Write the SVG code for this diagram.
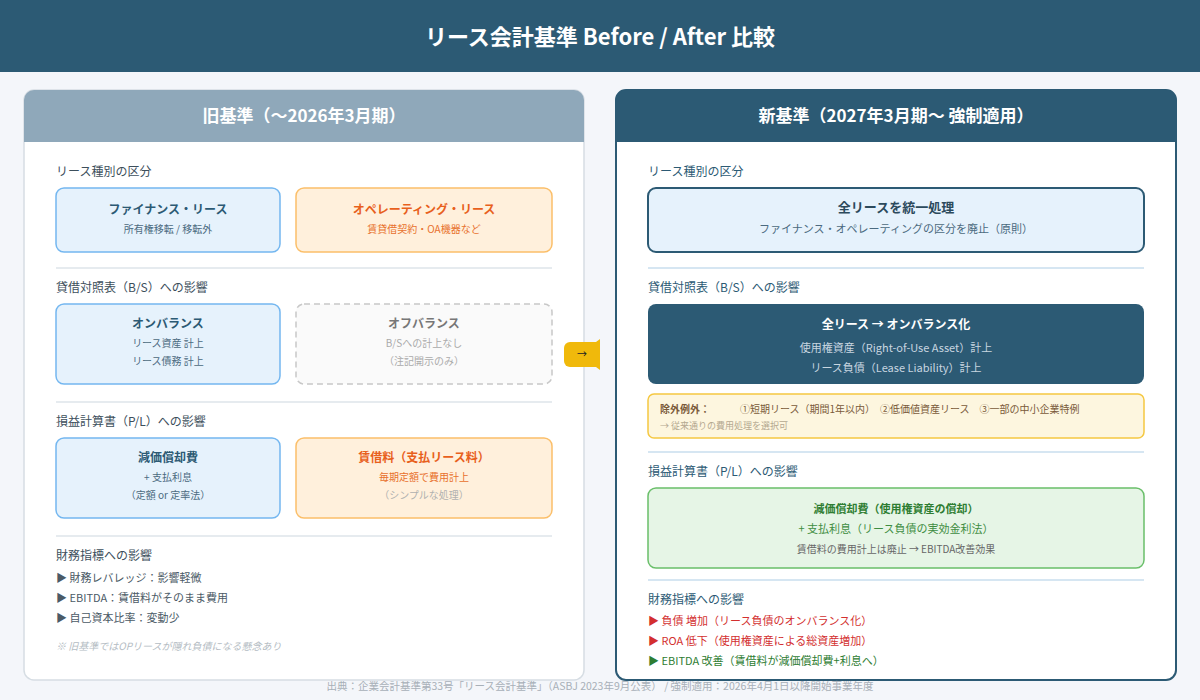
<svg xmlns="http://www.w3.org/2000/svg" width="1200" height="700" viewBox="0 0 1200 700">
<style>
text{font-family:"Noto Sans CJK JP","Noto Sans",sans-serif}
.sec{font-size:12px;fill:#3d4f5c}
.secR{font-size:12px;fill:#2c5a74}
.b{font-weight:bold}
.c{text-anchor:middle}
.sm{font-size:10px}
.div{stroke:#e6ebef;stroke-width:2}
.divR{stroke:#d6e6f2;stroke-width:2}
</style>
<rect width="1200" height="700" fill="#f4f6fa"/>
<rect width="1200" height="72" fill="#2c5a74"/>
<text x="600" y="45" class="c b" font-size="22" fill="#fff">リース会計基準 Before / After 比較</text>

<g id="left-panel">
<rect x="24" y="90" width="560" height="590" rx="10" fill="#fff" stroke="#d6dde3" stroke-width="1.5"/>
<path d="M24 142V100a10 10 0 0 1 10-10h540a10 10 0 0 1 10 10v42z" fill="#8fa8ba"/>
<text x="304" y="122" class="c b" font-size="17" fill="#fff">旧基準（〜2026年3月期）</text>
<text x="56" y="176" class="sec">リース種別の区分</text>
<text x="56" y="292" class="sec">貸借対照表（B/S）への影響</text>
<text x="56" y="426" class="sec">損益計算書（P/L）への影響</text>
<text x="56" y="560" class="sec">財務指標への影響</text>
<line x1="56" y1="268" x2="552" y2="268" class="div"/>
<line x1="56" y1="402" x2="552" y2="402" class="div"/>
<line x1="56" y1="536" x2="552" y2="536" class="div"/>
<text x="56" y="582" font-size="11" fill="#4b5a66">▶ 財務レバレッジ：影響軽微</text>
<text x="56" y="602" font-size="11" fill="#4b5a66">▶ EBITDA：賃借料がそのまま費用</text>
<text x="56" y="622" font-size="11" fill="#4b5a66">▶ 自己資本比率：変動少</text>
<text x="56" y="650" font-size="10" font-style="italic" fill="#b4bcc3">※ 旧基準ではOPリースが隠れ負債になる懸念あり</text>
</g>
<g id="finance-lease">
<rect x="56" y="188" width="224" height="64" rx="8" fill="#e6f2fc" stroke="#74b7f0" stroke-width="1.5"/>
<text x="168" y="214" class="c b" font-size="12" fill="#2c5a74">ファイナンス・リース</text>
<text x="168" y="233" class="c sm" fill="#4b6a80">所有権移転 / 移転外</text>
</g>
<g id="operating-lease">
<rect x="296" y="188" width="256" height="64" rx="8" fill="#fff0dc" stroke="#fbbf6a" stroke-width="1.5"/>
<text x="424" y="214" class="c b" font-size="12" fill="#e8601c">オペレーティング・リース</text>
<text x="424" y="233" class="c sm" fill="#e8702c">賃貸借契約・OA機器など</text>
</g>
<g id="on-balance">
<rect x="56" y="304" width="224" height="80" rx="8" fill="#e6f2fc" stroke="#74b7f0" stroke-width="1.5"/>
<text x="168" y="328" class="c b" font-size="12" fill="#2c5a74">オンバランス</text>
<text x="168" y="347" class="c sm" fill="#4b6a80">リース資産 計上</text>
<text x="168" y="365" class="c sm" fill="#4b6a80">リース債務 計上</text>
</g>
<g id="off-balance">
<rect x="296" y="304" width="256" height="80" rx="8" fill="#fafafa" stroke="#c8c8c8" stroke-width="1.5" stroke-dasharray="6 4"/>
<text x="424" y="328" class="c b" font-size="12" fill="#777">オフバランス</text>
<text x="424" y="347" class="c sm" fill="#aaa">B/Sへの計上なし</text>
<text x="424" y="365" class="c sm" fill="#aaa">（注記開示のみ）</text>
</g>
<g id="depreciation-old">
<rect x="56" y="438" width="224" height="80" rx="8" fill="#e6f2fc" stroke="#74b7f0" stroke-width="1.5"/>
<text x="168" y="462" class="c b" font-size="12" fill="#2c5a74">減価償却費</text>
<text x="168" y="481" class="c sm" fill="#4b6a80">+ 支払利息</text>
<text x="168" y="499" class="c sm" fill="#4b6a80">（定額 or 定率法）</text>
</g>
<g id="rent-expense">
<rect x="296" y="438" width="256" height="80" rx="8" fill="#fff0dc" stroke="#fbbf6a" stroke-width="1.5"/>
<text x="424" y="462" class="c b" font-size="12" fill="#e8601c">賃借料（支払リース料）</text>
<text x="424" y="481" class="c sm" fill="#e8702c">毎期定額で費用計上</text>
<text x="424" y="499" class="c sm" fill="#b0b0b0">（シンプルな処理）</text>
</g>

<g id="connectors">
<path d="M570 342h30v25h-30a6 6 0 0 1-6-6v-13a6 6 0 0 1 6-6z" fill="#f0b90b"/>
<path d="M596 342l4-3v31l-4-3z" fill="#f0b90b"/>
<text x="582" y="358" class="c" font-size="10" fill="#222">→</text>
</g>

<g id="right-panel">
<rect x="616" y="90" width="560" height="590" rx="10" fill="#fff" stroke="#2c5a74" stroke-width="2"/>
<path d="M616 142V100a10 10 0 0 1 10-10h540a10 10 0 0 1 10 10v42z" fill="#2c5a74"/>
<text x="896" y="122" class="c b" font-size="17" fill="#fff">新基準（2027年3月期〜 強制適用）</text>
<text x="648" y="176" class="secR">リース種別の区分</text>
<text x="648" y="292" class="secR">貸借対照表（B/S）への影響</text>
<text x="648" y="476" class="secR">損益計算書（P/L）への影響</text>
<text x="648" y="604" class="secR">財務指標への影響</text>
<line x1="648" y1="268" x2="1144" y2="268" class="divR"/>
<line x1="648" y1="452" x2="1144" y2="452" class="divR"/>
<line x1="648" y1="580" x2="1144" y2="580" class="divR"/>
<text x="648" y="625" font-size="11" fill="#d32f2f">▶ 負債 増加（リース負債のオンバランス化）</text>
<text x="648" y="645" font-size="11" fill="#d32f2f">▶ ROA 低下（使用権資産による総資産増加）</text>
<text x="648" y="665" font-size="11" fill="#2e7d32">▶ EBITDA 改善（賃借料が減価償却費+利息へ）</text>
</g>
<g id="unified">
<rect x="648" y="188" width="496" height="64" rx="8" fill="#e6f2fc" stroke="#2c5a74" stroke-width="2"/>
<text x="896" y="212" class="c b" font-size="13" fill="#2c4a5c">全リースを統一処理</text>
<text x="896" y="233" class="c" font-size="11" fill="#4b6a80">ファイナンス・オペレーティングの区分を廃止（原則）</text>
</g>
<g id="all-on-balance">
<rect x="648" y="304" width="496" height="80" rx="8" fill="#2c5a74"/>
<text x="896" y="329" class="c b" font-size="12" fill="#fff">全リース → オンバランス化</text>
<text x="896" y="352" class="c" font-size="11" fill="#c8d6e0">使用権資産（Right-of-Use Asset）計上</text>
<text x="896" y="372" class="c" font-size="11" fill="#c8d6e0">リース負債（Lease Liability）計上</text>
</g>
<g id="exceptions">
<rect x="648" y="394" width="496" height="44" rx="6" fill="#fdf6df" stroke="#f5c842" stroke-width="1.5"/>
<text x="660" y="413" class="sm b" fill="#7a5a3a">除外例外：</text>
<text x="740" y="413" class="sm" fill="#7a5a3a">①短期リース（期間1年以内）　②低価値資産リース　③一部の中小企業特例</text>
<text x="660" y="429" font-size="9" fill="#b4a890">→ 従来通りの費用処理を選択可</text>
</g>
<g id="depreciation-new">
<rect x="648" y="488" width="496" height="80" rx="8" fill="#e6f5e6" stroke="#6abf6a" stroke-width="1.5"/>
<text x="896" y="513" class="c b" font-size="11" fill="#2e7d32">減価償却費（使用権資産の償却）</text>
<text x="896" y="533" class="c" font-size="11" fill="#3e8d42">+ 支払利息（リース負債の実効金利法）</text>
<text x="896" y="553" class="c sm" fill="#666">賃借料の費用計上は廃止 → EBITDA改善効果</text>
</g>
<text x="600" y="690" class="c" font-size="10.5" fill="#a8b0b8">出典：企業会計基準第33号「リース会計基準」（ASBJ 2023年9月公表） / 強制適用：2026年4月1日以降開始事業年度</text>
</svg>
